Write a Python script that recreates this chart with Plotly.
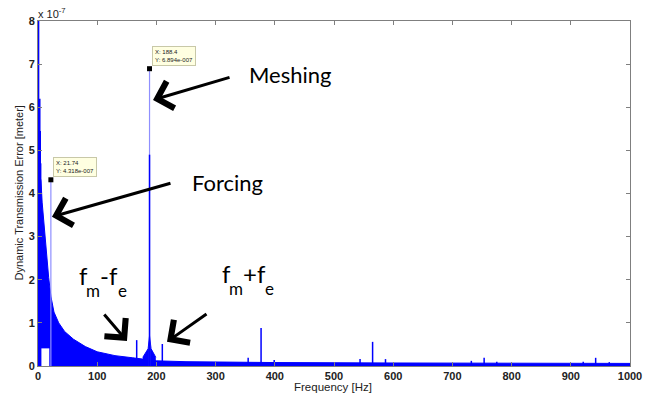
import plotly.graph_objects as go

# ---------------- data (amplitudes in units of 1e-7 m) ----------------
# upper envelope of the dense spectrum band
env_freq = [0, 5, 7, 10, 12, 15, 18, 22, 27, 35, 45, 60, 80, 100, 130, 160, 180, 200,
            250, 300, 400, 600, 800, 1000]
env_amp = [4.6, 4.3, 3.8, 3.3, 3.0, 2.5, 2.05, 1.6, 1.25, 1.0, 0.8, 0.62, 0.45, 0.33,
           0.24, 0.19, 0.16, 0.12, 0.10, 0.09, 0.08, 0.07, 0.06, 0.06]
# white gap under the band at very low frequency
gap_freq = [1.0, 20.0]
gap_amp = 0.42

# dark spectral lines
spike_freq = [1.0, 3.0, 3.8, 4.5, 166.7, 210.0, 355.0, 376.8, 399.0, 500.0, 544.0,
              565.2, 587.0, 600.0, 700.0, 732.0, 753.6, 775.0, 800.0, 900.0, 921.0,
              942.0, 965.0, 188.4]
spike_amp = [8.0, 6.2, 5.45, 4.7, 0.60, 0.51, 0.19, 0.88, 0.14, 0.05, 0.16, 0.56, 0.16,
             0.06, 0.06, 0.12, 0.19, 0.10, 0.06, 0.07, 0.10, 0.19, 0.09, 4.9]

# thin (light) tall lines
tall_freq = [21.74, 188.4]
tall_amp = [4.318, 6.894]

# broadened base of the meshing line
hump_freq = [177.0, 186.0, 188.4, 191.0, 199.0]
hump_amp = [0.20, 0.40, 0.70, 0.40, 0.20]

# data tips
tip_freq = [188.4, 21.74]
tip_amp = [6.894, 4.318]
tip_text = ["X: 188.4<br>Y: 6.894e-007", "X: 21.74<br>Y: 4.318e-007"]

x_ticks = [0, 100, 200, 300, 400, 500, 600, 700, 800, 900, 1000]
y_ticks = [0, 1, 2, 3, 4, 5, 6, 7, 8]

BLUE = "#0000ff"
LIGHT = "#8f8fff"

# ---------------- figure ----------------
fig = go.Figure()

band_x = list(env_freq) + [env_freq[-1], gap_freq[1], gap_freq[1], gap_freq[0], gap_freq[0], env_freq[0]]
band_y = list(env_amp) + [0, 0, gap_amp, gap_amp, 0, 0]
fig.add_trace(go.Scatter(x=band_x, y=band_y, mode="lines", fill="toself",
                         fillcolor=BLUE, line=dict(color=BLUE, width=1),
                         hoverinfo="skip", showlegend=False))

fig.add_trace(go.Scatter(x=hump_freq, y=hump_amp, mode="lines", fill="tozeroy",
                         fillcolor=BLUE, line=dict(color=BLUE, width=1),
                         hoverinfo="skip", showlegend=False))


def spikes(fs, amps):
    xs, ys = [], []
    for f, a in zip(fs, amps):
        xs += [f, f, None]
        ys += [0, a, None]
    return xs, ys


tx, ty = spikes(tall_freq, tall_amp)
fig.add_trace(go.Scatter(x=tx, y=ty, mode="lines", line=dict(color=LIGHT, width=1.2),
                         hoverinfo="skip", showlegend=False))
sx, sy = spikes(spike_freq, spike_amp)
fig.add_trace(go.Scatter(x=sx, y=sy, mode="lines", line=dict(color=BLUE, width=1.5),
                         hoverinfo="skip", showlegend=False))

fig.add_trace(go.Scatter(x=tip_freq, y=tip_amp, mode="markers",
                         marker=dict(symbol="square", size=5, color="black"),
                         hoverinfo="skip", showlegend=False))

# plot area in pixels
L, R, T, B = 38, 630, 21, 366
W, H = 652, 393


def px(xp):
    return (xp - L) / (R - L)


def py(yp):
    return (B - yp) / (B - T)


ann = []
for f, a, t in zip(tip_freq, tip_amp, tip_text):
    ann.append(dict(x=f, y=a, xref="x", yref="y", text=t, showarrow=False,
                    xanchor="left", yanchor="bottom", xshift=2, yshift=3, align="left",
                    font=dict(family="Liberation Sans", size=6, color="#222"),
                    bgcolor="#ffffe1", bordercolor="#c8c8a8", borderwidth=1, borderpad=2))

# arrows: head in data coords, tail offset in px
arrows = [
    (194.3, 6.17, 78, -23),
    (23.6, 3.46, 120, -34),
    (150.3, 0.58, -24, -28),
    (217.9, 0.56, 41, -29),
]
for x, y, ax, ay in arrows:
    ann.append(dict(x=x, y=y, xref="x", yref="y", ax=ax, ay=ay, axref="pixel", ayref="pixel",
                    text="", showarrow=True, arrowhead=4, arrowsize=1.8, arrowwidth=3,
                    arrowcolor="black", standoff=0))


def label(text, xl, baseline, size):
    # Lato: text box middle sits ~0.387em above baseline
    ann.append(dict(x=px(xl), y=py(baseline - 0.387 * size), xref="paper", yref="paper",
                    text=text, showarrow=False, xanchor="left", yanchor="middle",
                    borderpad=0, font=dict(family="Lato", size=size, color="black")))


label("Meshing", 248, 83, 22)
label("Forcing", 191, 191, 22)
pieces = [("f", 78, 285, 24), ("m", 85, 297, 17), ("-f", 99, 285, 24), ("e", 117, 297, 17),
          ("f", 221, 283, 24), ("m", 228, 295, 17), ("+f", 242, 283, 24), ("e", 264, 295, 17)]
for t, xl, yb, s in pieces:
    label(t, xl, yb, s)

# exponent label
ann.append(dict(x=px(37), y=py(21), xref="paper", yref="paper", text="x 10<sup>-7</sup>",
                showarrow=False, xanchor="left", yanchor="bottom", borderpad=0,
                font=dict(family="Liberation Sans", size=11, color="#222")))
# axis titles
ann.append(dict(x=px(18), y=0.5, xref="paper", yref="paper",
                text="Dynamic Transmission Error [meter]", textangle=-90, showarrow=False,
                xanchor="center", yanchor="middle", borderpad=0,
                font=dict(family="Liberation Sans", size=11, color="#222")))
ann.append(dict(x=px(333), y=py(386.5), xref="paper", yref="paper",
                text="Frequency [Hz]", showarrow=False,
                xanchor="center", yanchor="middle", borderpad=0,
                font=dict(family="Liberation Sans", size=11.5, color="#222")))

axis_common = dict(showline=True, linecolor="#7f7f7f", linewidth=1, mirror="ticks",
                   ticks="inside", ticklen=4, tickcolor="#7f7f7f", showgrid=False,
                   zeroline=False, automargin=False,
                   tickfont=dict(family="Liberation Sans", size=11, color="#222", weight="bold"))

fig.update_layout(
    width=W, height=H,
    margin=dict(l=L, r=W - R, t=T, b=H - B, autoexpand=False),
    paper_bgcolor="white", plot_bgcolor="white",
    showlegend=False,
    annotations=ann,
    xaxis=dict(range=[0, 1000], tickvals=x_ticks, ticktext=[str(v) for v in x_ticks],
               **axis_common),
    yaxis=dict(range=[0, 8], tickvals=y_ticks, ticktext=[str(v) for v in y_ticks],
               **axis_common),
)

fig.write_html("out.html", config={"displayModeBar": False},
               post_script="document.body.style.margin='0';document.body.style.overflow='hidden';")
